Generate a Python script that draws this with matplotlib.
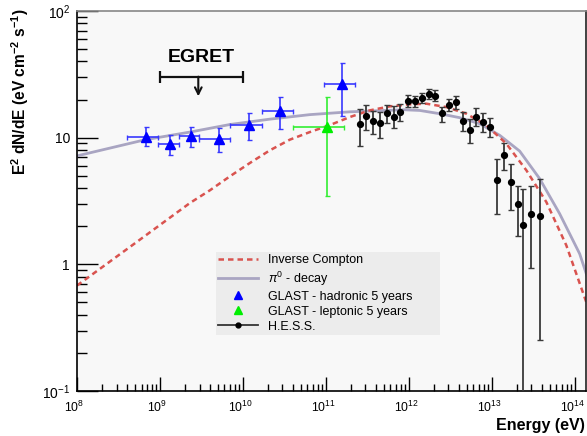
import matplotlib
matplotlib.use('Agg')
import matplotlib.pyplot as plt
import matplotlib.transforms as mtransforms
from matplotlib.lines import Line2D
from matplotlib.ticker import FixedLocator, FixedFormatter, LogLocator, NullFormatter

plt.rcParams['font.family'] = ['Liberation Sans', 'DejaVu Sans']
plt.rcParams['mathtext.fontset'] = 'custom'
plt.rcParams['mathtext.rm'] = 'Liberation Sans'
plt.rcParams['mathtext.it'] = 'Liberation Sans:italic'
plt.rcParams['mathtext.bf'] = 'Liberation Sans:bold'

# Model curves
pi0_E = [1e8, 6.73e8, 2.30e9, 6.97e9, 2.11e10, 6.41e10, 1.95e11, 5.90e11, 8.95e11, 1.36e12,
         2.36e12, 4.11e12, 7.16e12, 1.25e13, 2.17e13, 3.78e13, 6.59e13, 1.15e14, 1.40e14]
pi0_F = [7.18, 9.65, 11.07, 12.7, 14.0, 15.2, 16.0, 16.45, 16.6, 16.4,
         15.46, 14.38, 12.89, 10.43, 7.84, 4.75, 2.51, 1.21, 0.82]

ic_E = [1e8, 5.24e8, 2.30e9, 4.00e9, 6.97e9, 1.21e10, 2.11e10, 3.68e10, 6.41e10, 1.12e11,
        1.95e11, 3.39e11, 5.90e11, 1.03e12, 1.63e12, 2.84e12, 4.95e12, 8.63e12, 1.50e13,
        2.62e13, 4.56e13, 7.94e13, 1.40e14]
ic_F = [0.68, 1.50, 3.05, 3.84, 4.95, 6.30, 7.94, 9.64, 11.07, 12.58,
        14.55, 16.43, 17.66, 18.32, 18.54, 17.44, 15.46, 12.50, 8.97,
        5.52, 3.10, 1.41, 0.49]

# GLAST hadronic 5 years
had_E = [6.73e8, 1.32e9, 2.34e9, 5.09e9, 1.19e10, 2.82e10, 1.58e11]
had_Elo = [4.03e8, 9.53e8, 1.71e9, 2.97e9, 7.05e9, 1.69e10, 9.38e10]
had_Ehi = [9.53e8, 1.71e9, 2.97e9, 7.05e9, 1.69e10, 4.04e10, 2.25e11]
had_F = [10.2, 8.85, 10.4, 9.7, 12.6, 16.2, 26.5]
had_Flo = [8.6, 7.25, 8.5, 7.7, 9.6, 11.8, 14.8]
had_Fhi = [12.1, 10.5, 12.2, 11.9, 15.6, 20.8, 39.0]

# GLAST leptonic 5 years
lep_E = [1.03e11]
lep_Elo = [3.97e10]
lep_Ehi = [1.66e11]
lep_F = [12.1]
lep_Flo = [3.44]
lep_Fhi = [20.8]

# H.E.S.S.
hess_E = [2.55e11, 3.06e11, 3.68e11, 4.52e11, 5.43e11, 6.59e11, 7.94e11, 9.82e11, 1.19e12,
          1.44e12, 1.73e12, 2.09e12, 2.50e12, 3.03e12, 3.68e12, 4.48e12, 5.43e12, 6.53e12,
          7.94e12, 9.55e12, 1.16e13, 1.42e13, 1.69e13, 2.07e13, 2.40e13, 2.98e13, 3.78e13]
hess_F = [12.81, 14.81, 13.53, 12.97, 15.74, 14.64, 16.03, 19.45, 19.34,
          20.55, 22.1, 21.44, 15.55, 18.1, 18.99, 13.6, 11.56, 14.64,
          13.29, 12.13, 4.66, 7.25, 4.44, 2.99, 2.04, 2.51, 2.41]
hess_Fhi = [16.93, 18.2, 16.2, 15.9, 18.2, 17.77, 18.43, 21.8, 21.4,
            22.6, 24.2, 23.6, 17.45, 20.2, 21.4, 15.9, 13.94, 17.24,
            15.55, 14.29, 6.82, 9.13, 6.23, 4.15, 3.96, 4.15, 4.69]
hess_Flo = [8.54, 11.42, 10.62, 10.0, 12.97, 11.98, 13.6, 17.56, 17.45,
            18.77, 20.2, 19.45, 13.29, 16.2, 16.93, 11.28, 9.13, 12.28,
            11.01, 10.06, 2.48, 5.52, 2.70, 1.66, 0.01, 0.94, 0.254]

# EGRET upper limit
egret_Elo = 1e9
egret_Ehi = 1e10
egret_F = 30.3
egret_arrow_E = 2.9e9
egret_arrow_F = 21.2

x_ticks = [1e8, 1e9, 1e10, 1e11, 1e12, 1e13, 1e14]
x_ticklabels = ['$10^{8}$', '$10^{9}$', '$10^{10}$', '$10^{11}$', '$10^{12}$', '$10^{13}$', '$10^{14}$']
y_ticks = [0.1, 1, 10, 100]
y_ticklabels = ['$10^{-1}$', '1', '10', '$10^{2}$']

fig = plt.figure(figsize=(5.87, 4.36), dpi=100)
ax = fig.add_axes([77 / 587, 45 / 436, 509 / 587, 380 / 436])
ax.set_facecolor('#f8f8f8')
ax.set_xscale('log')
ax.set_yscale('log')

# Curves
ax.plot(pi0_E, pi0_F, color='#a9a5c2', lw=2.0, zorder=2)
ax.plot(ic_E, ic_F, color='#d9534f', lw=1.8, ls=(0, (2.2, 1.6)), zorder=2)

# GLAST points
def asym(v, lo, hi):
    return [[a - b for a, b in zip(v, lo)], [b - a for a, b in zip(v, hi)]]

ax.errorbar(had_E, had_F, xerr=asym(had_E, had_Elo, had_Ehi), yerr=asym(had_F, had_Flo, had_Fhi),
            fmt='none', ecolor='#3838ff', elinewidth=1.2, capsize=1.8, capthick=1.0, zorder=3)
ax.plot(had_E, had_F, '^', color='#0000ff', ms=7, zorder=4)
ax.errorbar(lep_E, lep_F, xerr=asym(lep_E, lep_Elo, lep_Ehi), yerr=asym(lep_F, lep_Flo, lep_Fhi),
            fmt='none', ecolor='#33ee33', elinewidth=1.2, capsize=1.8, capthick=1.0, zorder=3)
ax.plot(lep_E, lep_F, '^', color='#00ee00', ms=7, zorder=4)

# HESS points
ax.errorbar(hess_E, hess_F, yerr=asym(hess_F, hess_Flo, hess_Fhi), fmt='none',
            ecolor='#3a3a3a', elinewidth=1.3, capsize=2.0, capthick=1.0, zorder=3)
ax.plot(hess_E, hess_F, 'o', color='black', ms=4.2, zorder=4)

# EGRET upper limit
egret_c = (egret_Elo * egret_Ehi) ** 0.5
ax.errorbar([egret_c], [egret_F], xerr=[[egret_c - egret_Elo], [egret_Ehi - egret_c]],
            fmt='none', ecolor='#111111', elinewidth=1.6, capsize=4.5, capthick=1.6, zorder=3)
ax.annotate('', xy=(egret_arrow_E, egret_arrow_F), xytext=(egret_arrow_E, egret_F),
            arrowprops=dict(arrowstyle='->', lw=1.5, color='#111111',
                            shrinkA=0, shrinkB=0, mutation_scale=12))
ax.text(3.12e9, 43.3, 'EGRET', fontsize=14, fontweight='bold', ha='center', va='center')

ax.set_xlim(1e8, 1.37e14)
ax.set_ylim(0.1, 100)

# Ticks, ROOT style
ax.xaxis.set_major_locator(FixedLocator(x_ticks))
ax.xaxis.set_major_formatter(FixedFormatter(x_ticklabels))
ax.yaxis.set_major_locator(FixedLocator(y_ticks))
ax.yaxis.set_major_formatter(FixedFormatter(y_ticklabels))
ax.xaxis.set_minor_locator(LogLocator(base=10, subs=range(2, 10), numticks=20))
ax.yaxis.set_minor_locator(LogLocator(base=10, subs=range(2, 10), numticks=20))
ax.xaxis.set_minor_formatter(NullFormatter())
ax.yaxis.set_minor_formatter(NullFormatter())
ax.tick_params(axis='x', which='major', direction='in', length=10, width=1, pad=6, labelsize=8.8)
ax.tick_params(axis='x', which='minor', direction='in', length=5, width=1)
ax.tick_params(axis='y', which='major', direction='in', length=15, width=1, pad=5, labelsize=10)
ax.tick_params(axis='y', which='minor', direction='in', length=7.5, width=1)
ax.tick_params(top=False, right=False, which='both')

# nudge x tick labels a little to the left, as in the original
shift = mtransforms.ScaledTranslation(-2.5 / 100, 0, fig.dpi_scale_trans)
for lbl in ax.get_xticklabels():
    lbl.set_transform(lbl.get_transform() + shift)

for s in ['left', 'bottom']:
    ax.spines[s].set_color('black')
    ax.spines[s].set_linewidth(1.2)
ax.spines['top'].set_color('#888888')
ax.spines['top'].set_linewidth(1.2)
ax.spines['right'].set_color('#222222')
ax.spines['right'].set_linewidth(1.2)

# Axis titles
fig.text(20 / 587, 1 - 9 / 436, 'E$^{\\mathbf{2}}$ dN/dE (eV cm$^{\\mathbf{-2}}$ s$^{\\mathbf{-1}}$)',
         rotation=90, ha='center', va='top', fontsize=11.2, fontweight='bold')
fig.text(585 / 587, 1 - 425 / 436, 'Energy (eV)', ha='right', va='center',
         fontsize=11.5, fontweight='bold')

# Legend
handles = [
    Line2D([], [], color='#d9534f', lw=1.8, ls=(0, (2.2, 1.6))),
    Line2D([], [], color='#a9a5c2', lw=2.0),
    Line2D([], [], color='#0000ff', marker='^', ls='none', ms=6),
    Line2D([], [], color='#00ee00', marker='^', ls='none', ms=6),
    Line2D([], [], color='#333333', lw=1.3, marker='o', ms=3.5, markerfacecolor='black',
           markeredgecolor='black'),
]
labels = ['Inverse Compton', '$\\pi^{0}$ - decay', 'GLAST - hadronic 5 years',
          'GLAST - leptonic 5 years', 'H.E.S.S.']
leg = ax.legend(handles, labels, loc='upper left', bbox_to_anchor=(0.273, 0.153, 0.44, 0.213),
                mode='expand', fontsize=9, frameon=True, fancybox=False, borderaxespad=0,
                handlelength=3.2, handletextpad=0.75, labelspacing=0.24, borderpad=0.2)
leg.get_frame().set_facecolor('#ececec')
leg.get_frame().set_edgecolor('none')
leg.get_frame().set_alpha(1)

fig.savefig('out.png', dpi=100)
